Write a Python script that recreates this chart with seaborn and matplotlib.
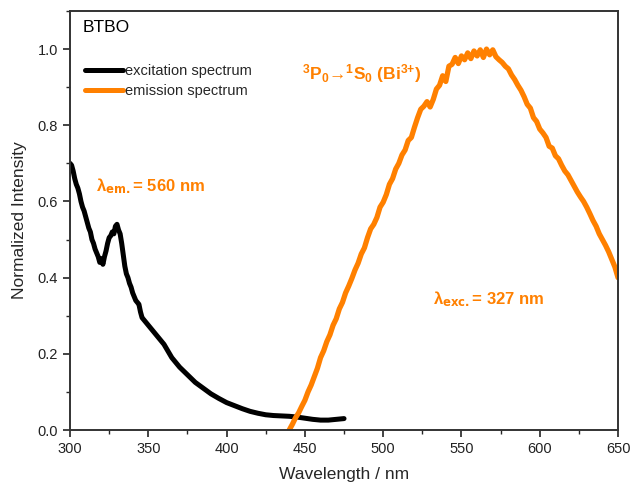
import matplotlib
matplotlib.use("Agg")
import matplotlib.pyplot as plt
import seaborn as sns
import pandas as pd
from matplotlib.ticker import MultipleLocator

sns.set_style("white")
plt.rcParams['font.family'] = ['Liberation Sans', 'DejaVu Sans']
plt.rcParams['mathtext.default'] = 'regular'

# Excitation spectrum (lambda_em = 560 nm)
exc_wl = [300, 301, 302, 303, 304, 305, 306, 307, 308, 309, 310, 311, 312, 313, 314, 315,
          316, 317, 318, 319, 320, 321, 322, 323, 324, 325, 326, 327, 328, 329, 330, 331,
          332, 333, 334, 335, 336, 337, 338, 339, 340, 341, 342, 343, 344, 345, 346, 347,
          348, 349, 350, 355, 360, 365, 370, 375, 380, 385, 390, 395, 400, 405, 410, 415,
          420, 425, 430, 435, 440, 445, 450, 455, 460, 465, 470, 475]
exc_int = [0.70, 0.695, 0.68, 0.66, 0.645, 0.635, 0.62, 0.60, 0.585, 0.575, 0.56, 0.545,
           0.53, 0.52, 0.50, 0.49, 0.475, 0.465, 0.455, 0.44, 0.45, 0.435, 0.455, 0.47,
           0.49, 0.505, 0.51, 0.52, 0.515, 0.535, 0.54, 0.525, 0.515, 0.49, 0.46, 0.43,
           0.41, 0.40, 0.385, 0.375, 0.36, 0.35, 0.34, 0.335, 0.33, 0.31, 0.295, 0.29,
           0.285, 0.28, 0.275, 0.25, 0.225, 0.19, 0.165, 0.145, 0.125, 0.11, 0.095, 0.083,
           0.072, 0.064, 0.056, 0.049, 0.044, 0.040, 0.038, 0.037, 0.036, 0.034, 0.031,
           0.028, 0.026, 0.026, 0.028, 0.030]

# Emission spectrum (lambda_exc = 327 nm)
emi_wl = list(range(440, 651, 2))
emi_int = [0.000, 0.015, 0.032, 0.045, 0.062, 0.078, 0.100, 0.118, 0.140, 0.162,
           0.190, 0.208, 0.232, 0.250, 0.275, 0.292, 0.318, 0.335, 0.360, 0.378,
           0.398, 0.420, 0.438, 0.462, 0.478, 0.505, 0.528, 0.540, 0.558, 0.585,
           0.598, 0.618, 0.645, 0.660, 0.685, 0.700, 0.722, 0.735, 0.760, 0.768,
           0.795, 0.820, 0.842, 0.850, 0.862, 0.848, 0.868, 0.895, 0.905, 0.930,
           0.915, 0.955, 0.960, 0.978, 0.962, 0.982, 0.972, 0.990, 0.975, 0.995,
           0.982, 0.998, 0.978, 1.000, 0.985, 0.998, 0.980, 0.972, 0.965, 0.955,
           0.948, 0.932, 0.920, 0.905, 0.892, 0.875, 0.855, 0.845, 0.820, 0.810,
           0.790, 0.780, 0.768, 0.745, 0.740, 0.720, 0.712, 0.695, 0.680, 0.670,
           0.655, 0.640, 0.625, 0.612, 0.600, 0.585, 0.568, 0.550, 0.535, 0.515,
           0.500, 0.485, 0.468, 0.448, 0.428, 0.400]

x_ticks = [300, 350, 400, 450, 500, 550, 600, 650]
y_ticks = [0.0, 0.2, 0.4, 0.6, 0.8, 1.0]

ORANGE = '#FF8000'

fig = plt.figure(figsize=(6.32, 4.86), dpi=100)
ax = fig.add_axes([0.1108, 0.1152, 0.8671, 0.8622])

exc_df = pd.DataFrame({'wl': exc_wl, 'I': exc_int})
emi_df = pd.DataFrame({'wl': emi_wl, 'I': emi_int})
sns.lineplot(data=exc_df, x='wl', y='I', ax=ax, color='black', linewidth=3.6,
             label='excitation spectrum', sort=False)
sns.lineplot(data=emi_df, x='wl', y='I', ax=ax, color=ORANGE, linewidth=3.8,
             label='emission spectrum', sort=False)

ax.set_xlim(300, 650)
ax.set_ylim(0, 1.10)
ax.set_xticks(x_ticks)
ax.set_yticks(y_ticks)
ax.set_xticklabels([str(t) for t in x_ticks])
ax.set_yticklabels([f'{t:.1f}' for t in y_ticks])
ax.xaxis.set_minor_locator(MultipleLocator(25))
ax.yaxis.set_minor_locator(MultipleLocator(0.1))
ax.tick_params(which='major', direction='out', length=5, width=1.2, labelsize=10.5,
               colors='#222222', bottom=True, left=True, top=False, right=False)
ax.tick_params(which='minor', direction='out', length=3, width=1.0,
               bottom=True, left=True, top=False, right=False)
for s in ax.spines.values():
    s.set_color('#333333')
    s.set_linewidth(1.4)

ax.set_xlabel('Wavelength / nm', fontsize=12.5, labelpad=8)
ax.set_ylabel('Normalized Intensity', fontsize=12.5, labelpad=8)

leg = ax.legend(loc='upper left', bbox_to_anchor=(0.008, 0.897), frameon=False,
                fontsize=10.5, handlelength=2.6, handletextpad=0.2, labelspacing=0.4,
                borderaxespad=0.3)
for line in leg.get_lines():
    line.set_linewidth(3.6)

ax.text(308.3, 1.045, 'BTBO', fontsize=12.5, color='black', ha='left', va='baseline')
ax.text(316.5, 0.626, r'$\lambda_{\mathbf{em.}}$= 560 nm', fontsize=12, color=ORANGE,
        fontweight='bold', ha='left', va='baseline')
ax.text(532, 0.331, r'$\lambda_{\mathbf{exc.}}$= 327 nm', fontsize=12, color=ORANGE,
        fontweight='bold', ha='left', va='baseline')
ax.text(448, 0.921, r'$^{3}$P$_{0}$→$^{1}$S$_{0}$ (Bi$^{3{+}}$)', fontsize=12.5,
        color=ORANGE, fontweight='bold', ha='left', va='baseline')

fig.savefig('out.png', dpi=100)
